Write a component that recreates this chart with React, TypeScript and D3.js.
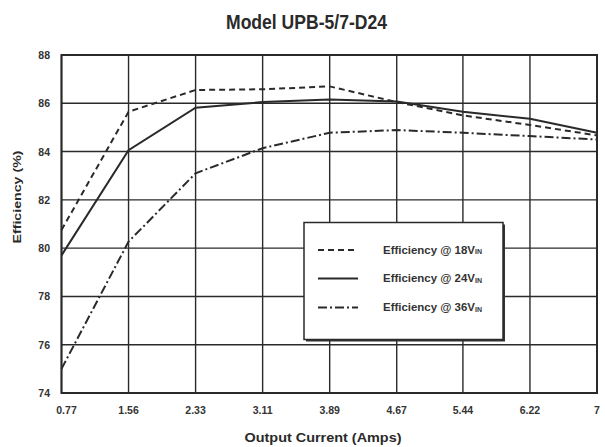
import React from "react";
import * as d3 from "d3";

const xTicks = [0.77, 1.55, 2.33, 3.11, 3.89, 4.67, 5.44, 6.22, 7];
const xTickLabels = ["0.77", "1.56", "2.33", "3.11", "3.89", "4.67", "5.44", "6.22", "7"];
const yTicks = [74, 76, 78, 80, 82, 84, 86, 88];

const eff18 = [80.75, 85.65, 86.55, 86.58, 86.7, 86.05, 85.5, 85.1, 84.67];
const eff24 = [79.7, 84.06, 85.82, 86.05, 86.16, 86.07, 85.65, 85.36, 84.78];
const eff36 = [75.0, 80.27, 83.1, 84.14, 84.78, 84.89, 84.78, 84.64, 84.5];

const seriesNames = ["Efficiency @ 18V", "Efficiency @ 24V", "Efficiency @ 36V"];
const dashes = ["6,4", "none", "9,3,2,3"];

const W = 605;
const H = 447;
const left = 61.5;
const right = 597;
const top = 55;
const bottom = 393;

export default function App() {
  const x = d3.scaleLinear().domain([0.77, 7]).range([left, right]);
  const y = d3.scaleLinear().domain([74, 88]).range([bottom, top]);
  const line = d3
    .line<number>()
    .x((_, i) => x(xTicks[i]))
    .y((d) => y(d));
  const series = [eff18, eff24, eff36];
  const ink = "#2a2a2a";
  const font = "'Liberation Sans', Arial, sans-serif";

  const lgX = 304;
  const lgY = 222.5;
  const lgW = 199;
  const lgH = 117;
  const rowY = [250, 278.5, 307.5];

  return (
    <svg
      width={W}
      height={H}
      style={{ position: "absolute", left: 0, top: 0, background: "#fff" }}
      fontFamily={font}
    >
      <rect x={0} y={0} width={W} height={H} fill="#fff" />
      <text
        x={306.5}
        y={29}
        textAnchor="middle"
        fontSize={20}
        fontWeight="bold"
        fill={ink}
        textLength={161}
        lengthAdjust="spacingAndGlyphs"
      >
        Model UPB-5/7-D24
      </text>

      {/* grid */}
      {yTicks.map((t) => (
        <line
          key={"gy" + t}
          x1={left}
          x2={right}
          y1={y(t)}
          y2={y(t)}
          stroke={ink}
          strokeWidth={1.4}
        />
      ))}
      {xTicks.map((t) => (
        <line
          key={"gx" + t}
          x1={x(t)}
          x2={x(t)}
          y1={top}
          y2={bottom}
          stroke={ink}
          strokeWidth={1.4}
        />
      ))}
      <rect
        x={left}
        y={top}
        width={right - left}
        height={bottom - top}
        fill="none"
        stroke={ink}
        strokeWidth={2}
      />

      {/* y tick labels */}
      {yTicks.map((t) => (
        <text
          key={"yl" + t}
          x={50}
          y={y(t) + 4}
          textAnchor="end"
          fontSize={10.5}
          fontWeight="bold"
          fill="#333"
        >
          {t}
        </text>
      ))}
      {/* x tick labels */}
      {xTicks.map((t, i) => (
        <text
          key={"xl" + t}
          x={x(t) + (i === 0 ? 5 : 0)}
          y={414}
          textAnchor="middle"
          fontSize={10.5}
          fontWeight="bold"
          fill="#333"
        >
          {xTickLabels[i]}
        </text>
      ))}

      {/* axis titles */}
      <text
        x={323}
        y={442}
        textAnchor="middle"
        fontSize={13}
        fontWeight="bold"
        fill={ink}
        textLength={157}
        lengthAdjust="spacingAndGlyphs"
      >
        Output Current (Amps)
      </text>
      <text
        transform={`translate(21,197) rotate(-90)`}
        textAnchor="middle"
        fontSize={11.5}
        fontWeight="bold"
        fill={ink}
        textLength={93}
        lengthAdjust="spacingAndGlyphs"
      >
        Efficiency (%)
      </text>

      {/* series */}
      {series.map((s, i) => (
        <path
          key={"s" + i}
          d={line(s) || ""}
          fill="none"
          stroke={ink}
          strokeWidth={2}
          strokeDasharray={dashes[i]}
        />
      ))}

      {/* legend */}
      <rect x={lgX + 2} y={lgY + 2} width={lgW} height={lgH} fill="#333" />
      <rect
        x={lgX}
        y={lgY}
        width={lgW}
        height={lgH}
        fill="#fff"
        stroke={ink}
        strokeWidth={1.5}
      />
      {seriesNames.map((n, i) => (
        <g key={"lg" + i}>
          <line
            x1={318}
            x2={358}
            y1={rowY[i]}
            y2={rowY[i]}
            stroke={ink}
            strokeWidth={2}
            strokeDasharray={dashes[i]}
          />
          <text y={rowY[i] + 3.5} fontSize={10.5} fill="#333" fontWeight="bold">
            <tspan x={383} textLength={92} lengthAdjust="spacingAndGlyphs">
              {n}
            </tspan>
            <tspan fontSize={7} dy={0.5}>
              IN
            </tspan>
          </text>
        </g>
      ))}
    </svg>
  );
}
